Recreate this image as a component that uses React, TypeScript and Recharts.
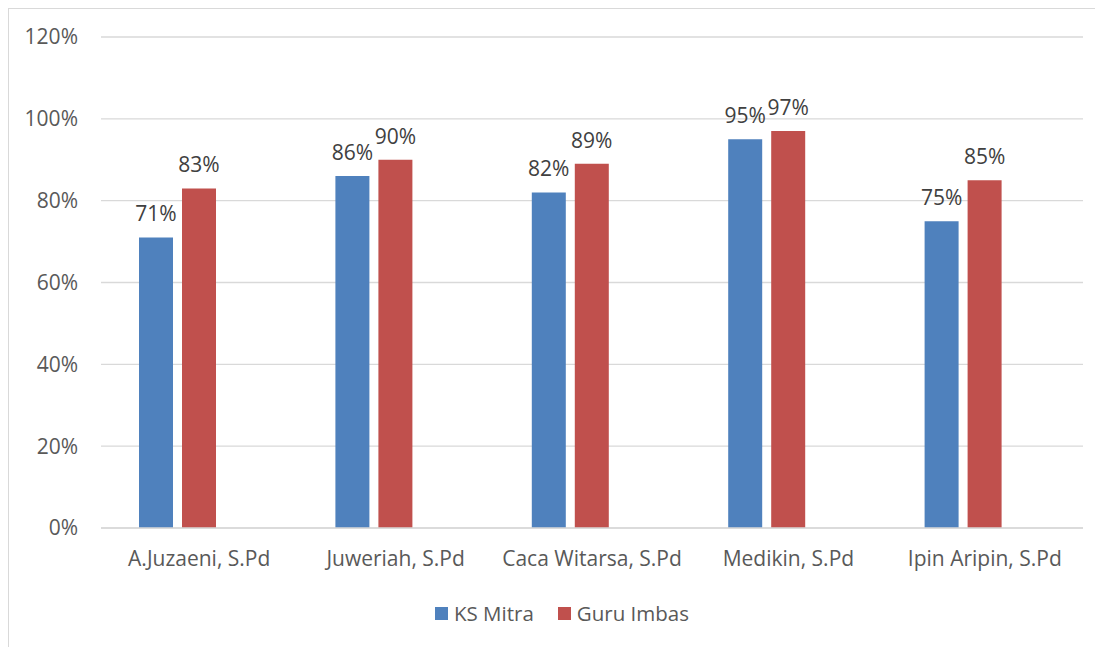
import { BarChart, Bar, XAxis, YAxis, CartesianGrid, LabelList } from 'recharts';

const names = ['A.Juzaeni, S.Pd', 'Juweriah, S.Pd', 'Caca Witarsa, S.Pd', 'Medikin, S.Pd', 'Ipin Aripin, S.Pd'];
const ksMitra = [71, 86, 82, 95, 75];
const guruImbas = [83, 90, 89, 97, 85];
const yTicks = [0, 20, 40, 60, 80, 100, 120];

const BLUE = '#4F81BD';
const RED = '#C0504D';
const FONT = '"Open Sans", sans-serif';

const data = names.map((name, i) => ({
  name,
  ks: ksMitra[i],
  guru: guruImbas[i],
  blank: null as number | null,
}));

const pct = (v: number) => `${v}%`;

const legendItems = [
  { label: 'KS Mitra', color: BLUE },
  { label: 'Guru Imbas', color: RED },
];

function LegendBox() {
  return (
    <div style={{ position: 'absolute', left: 426, top: 594, height: 20, display: 'flex', alignItems: 'center', gap: 24, fontFamily: FONT, fontSize: 20.5, color: '#595959', whiteSpace: 'nowrap' }}>
      {legendItems.map((it) => (
        <div key={it.label} style={{ display: 'flex', alignItems: 'center' }}>
          <span style={{ display: 'inline-block', width: 13, height: 13, background: it.color, marginRight: 6 }} />
          <span style={{ lineHeight: '20px' }}>{it.label}</span>
        </div>
      ))}
    </div>
  );
}

export default function App() {
  return (
    <div style={{ position: 'relative', width: 1200, height: 700, border: '1px solid #d9d9d9', boxSizing: 'border-box' }}>
      <BarChart
        width={1100}
        height={639}
        data={data}
        margin={{ top: 28, right: 26, bottom: 90, left: 0 }}
        barSize={34}
        barGap={9}
      >
        <CartesianGrid vertical={false} stroke="#d9d9d9" strokeWidth={1.3} />
        <XAxis
          dataKey="name"
          height={30}
          axisLine={{ stroke: '#d9d9d9', strokeWidth: 1.3 }}
          tickLine={false}
          tickSize={0}
          tickMargin={23}
          tick={{ fill: '#595959', fontSize: 21, fontFamily: FONT }}
        />
        <YAxis
          domain={[0, 120]}
          ticks={yTicks}
          tickFormatter={pct}
          axisLine={false}
          tickLine={false}
          tickSize={0}
          tickMargin={23}
          width={92}
          tick={{ fill: '#595959', fontSize: 21, fontFamily: FONT }}
        />
        <Bar dataKey="ks" name="KS Mitra" fill={BLUE} isAnimationActive={false}>
          <LabelList dataKey="ks" position="top" offset={16} formatter={pct} fill="#404040" fontSize={21} fontFamily={FONT} />
        </Bar>
        <Bar dataKey="guru" name="Guru Imbas" fill={RED} isAnimationActive={false}>
          <LabelList dataKey="guru" position="top" offset={16} formatter={pct} fill="#404040" fontSize={21} fontFamily={FONT} />
        </Bar>
        <Bar dataKey="blank" legendType="none" fill="transparent" isAnimationActive={false} />
      </BarChart>
      <LegendBox />
    </div>
  );
}
